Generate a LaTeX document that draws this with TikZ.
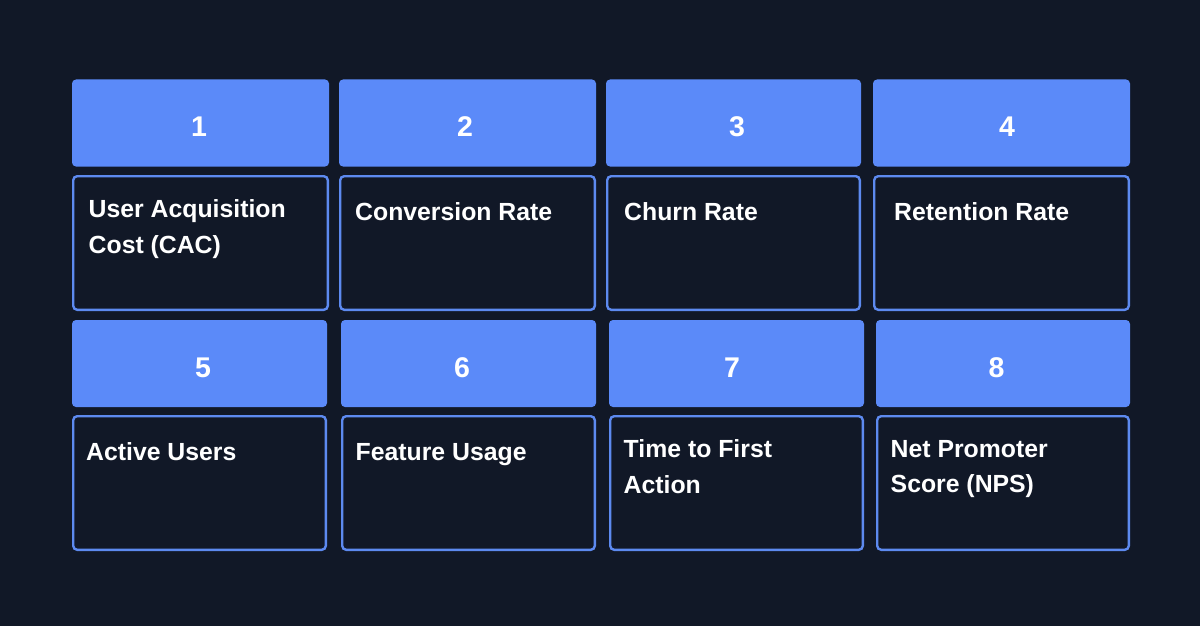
\documentclass[tikz,border=0pt]{standalone}
\usepackage{fontspec}
\setmainfont{Liberation Sans}
\definecolor{midnight}{HTML}{111827}
\definecolor{cornflower}{HTML}{5B8AF9}
\definecolor{edgeblue}{HTML}{5D8AF0}
\tikzset{
    headbox/.style={fill=cornflower, rounded corners=4pt, inner sep=0pt},
    bodybox/.style={draw=edgeblue, fill=midnight, line width=2.4pt, rounded corners=4pt, inner sep=0pt},
    numtext/.style={text=white, inner sep=0pt, font=\fontsize{28.5}{28.5}\selectfont\bfseries},
    bodytext/.style={text=white, inner sep=0pt, anchor=north west, align=left,
        font=\fontsize{24.8}{35.5}\selectfont\bfseries, execute at begin node={\rule{0pt}{20.8pt}}}
}

\begin{document}
\begin{tikzpicture}[x=1pt, y=-1pt]
            \fill[midnight] (0,0) rectangle (1200,626);
            \useasboundingbox (0,0) rectangle (1200,626);
            % first row
            \node[headbox, minimum width=257pt, minimum height=87pt] (h1) at ( 200.5, 123.0) {};
            \node[headbox, minimum width=257pt, minimum height=87pt] (h2) at ( 467.5, 123.0) {};
            \node[headbox, minimum width=255pt, minimum height=87pt] (h3) at ( 733.5, 123.0) {};
            \node[headbox, minimum width=257pt, minimum height=87pt] (h4) at (1001.5, 123.0) {};
            \node[numtext] (n1) at ( 199.0, 127.0) {1};
            \node[numtext] (n2) at ( 465.0, 127.0) {2};
            \node[numtext] (n3) at ( 737.0, 127.0) {3};
            \node[numtext] (n4) at (1007.0, 127.0) {4};
            \node[bodybox, minimum width=254.6pt, minimum height=133.6pt] (b1) at ( 200.5, 243.0) {};
            \node[bodybox, minimum width=254.6pt, minimum height=133.6pt] (b2) at ( 467.5, 243.0) {};
            \node[bodybox, minimum width=252.6pt, minimum height=133.6pt] (b3) at ( 733.5, 243.0) {};
            \node[bodybox, minimum width=254.6pt, minimum height=133.6pt] (b4) at (1001.5, 243.0) {};
            \node[bodytext] (t1) at ( 88.5, 199.8) {User Acquisition\\Cost (CAC)};
            \node[bodytext] (t2) at (355.0, 199.8) {Conversion Rate};
            \node[bodytext] (t3) at (624.0, 199.8) {Churn Rate};
            \node[bodytext] (t4) at (894.0, 199.8) {Retention Rate};
            % second row
            \node[headbox, minimum width=255pt, minimum height=87pt] (h5) at ( 199.5, 363.5) {};
            \node[headbox, minimum width=255pt, minimum height=87pt] (h6) at ( 468.5, 363.5) {};
            \node[headbox, minimum width=255pt, minimum height=87pt] (h7) at ( 736.5, 363.5) {};
            \node[headbox, minimum width=254pt, minimum height=87pt] (h8) at (1003.0, 363.5) {};
            \node[numtext] (n5) at ( 203.0, 368.0) {5};
            \node[numtext] (n6) at ( 462.0, 368.0) {6};
            \node[numtext] (n7) at ( 732.0, 368.0) {7};
            \node[numtext] (n8) at ( 996.5, 368.0) {8};
            \node[bodybox, minimum width=252.6pt, minimum height=133.6pt] (b5) at ( 199.5, 483.0) {};
            \node[bodybox, minimum width=252.6pt, minimum height=133.6pt] (b6) at ( 468.5, 483.0) {};
            \node[bodybox, minimum width=252.6pt, minimum height=133.6pt] (b7) at ( 736.5, 483.0) {};
            \node[bodybox, minimum width=251.6pt, minimum height=133.6pt] (b8) at (1003.0, 483.0) {};
            \node[bodytext] (t5) at ( 86.0, 439.8) {Active Users};
            \node[bodytext] (t6) at (355.5, 439.8) {Feature Usage};
            \node[bodytext] (t7) at (623.5, 439.8) {Time to First\\Action};
            \node[bodytext] (t8) at (890.5, 439.8) {Net Promoter\\Score (NPS)};
        \end{tikzpicture}
\end{document}
